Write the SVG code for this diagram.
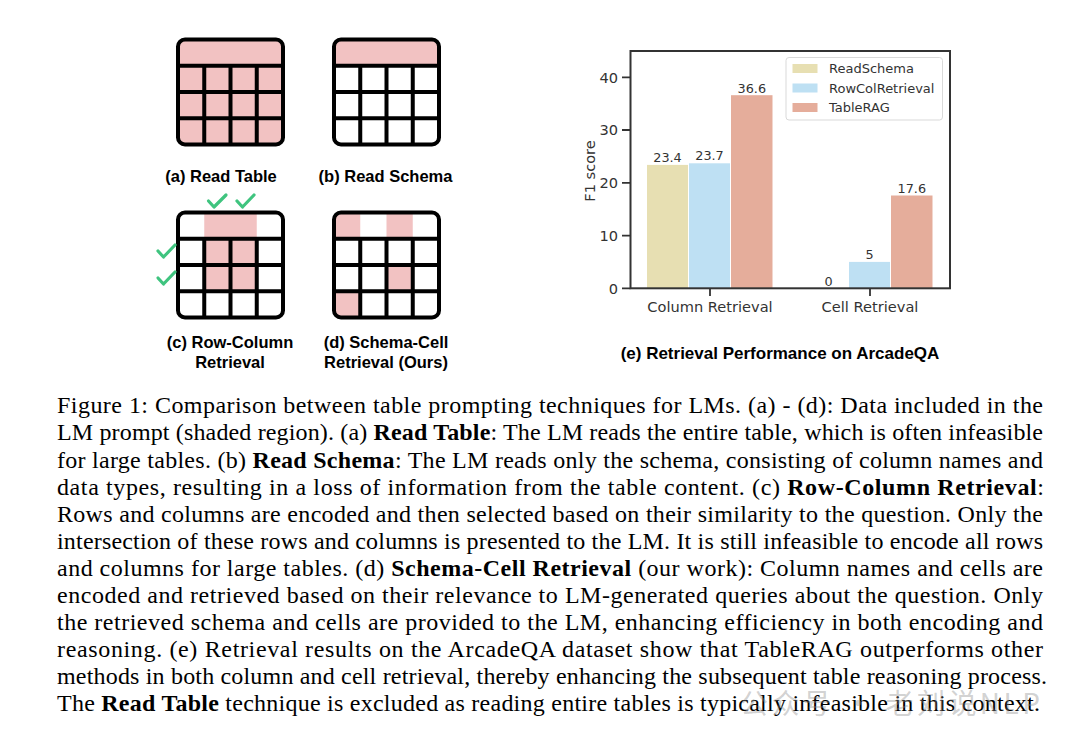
<svg xmlns="http://www.w3.org/2000/svg" width="1080" height="742" viewBox="0 0 1080 742">
<style>
.frame{fill:none;stroke:#000;stroke-width:4}
.grid{stroke:#000;stroke-width:4;fill:none}
.sh{fill:#f2c2c2}
.chk{fill:none;stroke:#3fc47f;stroke-width:3.2;stroke-linecap:round;stroke-linejoin:round}
.lbl{font-family:"Liberation Sans",Arial,sans-serif;font-weight:bold;font-size:16.5px;fill:#000;text-anchor:middle}
.ax{font-family:"DejaVu Sans",sans-serif;font-size:14.6px;fill:#333}
.val{font-family:"DejaVu Sans",sans-serif;font-size:12.8px;fill:#333;text-anchor:middle}
.leg{font-family:"DejaVu Sans",sans-serif;font-size:13px;fill:#333}
.spine{stroke:#333;stroke-width:2;fill:none}
.tick{stroke:#333;stroke-width:1.8}
.cap{font-family:"Liberation Serif","Times New Roman",serif;font-size:24px;fill:#000}
.b{font-weight:bold}
.y{fill:#e7dfb2}.bl{fill:#bee0f3}.s{fill:#e5ad9b}
</style>
<defs>
<clipPath id="ca"><rect x="178" y="39.5" width="105" height="105" rx="7"/></clipPath>
<clipPath id="cb"><rect x="334" y="39.5" width="105" height="105" rx="7"/></clipPath>
<clipPath id="cc"><rect x="178" y="212.5" width="105" height="105" rx="7"/></clipPath>
<clipPath id="cd"><rect x="334" y="212.5" width="105" height="105" rx="7"/></clipPath>
</defs>

<g id="table-a">
<rect class="sh" x="178" y="39.5" width="105" height="105" clip-path="url(#ca)"/>
<path class="grid" d="M178 65.75H283M178 92H283M178 118.25H283M204.25 65.75V144.5M230.5 65.75V144.5M256.75 65.75V144.5"/>
<rect class="frame" x="178" y="39.5" width="105" height="105" rx="7"/>
<text class="lbl" x="221" y="181.5">(a) Read Table</text>
</g>

<g id="table-b">
<rect class="sh" x="334" y="39.5" width="105" height="26.25" clip-path="url(#cb)"/>
<path class="grid" d="M334 65.75H439M334 92H439M334 118.25H439M360.25 65.75V144.5M386.5 65.75V144.5M412.75 65.75V144.5"/>
<rect class="frame" x="334" y="39.5" width="105" height="105" rx="7"/>
<text class="lbl" x="385.5" y="181.5">(b) Read Schema</text>
</g>

<g id="table-c">
<g clip-path="url(#cc)">
<rect class="sh" x="204.25" y="212.5" width="52.5" height="26.25"/>
<rect class="sh" x="204.25" y="238.75" width="52.5" height="52.5"/>
</g>
<path class="grid" d="M178 238.75H283M178 265H283M178 291.25H283M204.25 238.75V317.5M230.5 238.75V317.5M256.75 238.75V317.5"/>
<rect class="frame" x="178" y="212.5" width="105" height="105" rx="7"/>
<polyline class="chk" points="208.5,201 214,207 226,195"/>
<polyline class="chk" points="237,201 242.5,207 254,195"/>
<polyline class="chk" points="158,251 163.5,257 175,245"/>
<polyline class="chk" points="158,278 163.5,284 175,272"/>
<text class="lbl" x="230" y="348.3">(c) Row-Column</text>
<text class="lbl" x="230" y="368.3">Retrieval</text>
</g>

<g id="table-d">
<g clip-path="url(#cd)">
<rect class="sh" x="334" y="212.5" width="26.25" height="26.25"/>
<rect class="sh" x="386.5" y="212.5" width="26.25" height="26.25"/>
<rect class="sh" x="386.5" y="265" width="26.25" height="26.25"/>
<rect class="sh" x="334" y="291.25" width="26.25" height="26.25"/>
</g>
<path class="grid" d="M334 238.75H439M334 265H439M334 291.25H439M360.25 238.75V317.5M386.5 238.75V317.5M412.75 238.75V317.5"/>
<rect class="frame" x="334" y="212.5" width="105" height="105" rx="7"/>
<text class="lbl" x="386" y="348.3">(d) Schema-Cell</text>
<text class="lbl" x="386" y="368.3">Retrieval (Ours)</text>
</g>

<g id="chart">
<g id="bars">
<rect class="y" x="647" y="164.9" width="41" height="123.4"/>
<rect class="bl" x="689" y="163.3" width="41" height="125"/>
<rect class="s" x="731" y="95.2" width="41.5" height="193.1"/>
<rect class="bl" x="849" y="261.9" width="41" height="26.4"/>
<rect class="s" x="891" y="195.5" width="41.5" height="92.8"/>
</g>
<g class="val">
<text x="667.5" y="161.8">23.4</text>
<text x="709.5" y="160.2">23.7</text>
<text x="751.8" y="92.5">36.6</text>
<text x="828.5" y="285.5">0</text>
<text x="869.5" y="258.8">5</text>
<text x="911.8" y="192.5">17.6</text>
</g>
<g class="ax" text-anchor="middle">
<text x="710" y="311.5">Column Retrieval</text>
<text x="870" y="311.5">Cell Retrieval</text>
<text transform="translate(595,171) rotate(-90)">F1 score</text>
</g>
<g class="ax" text-anchor="end">
<text x="618" y="293.6">0</text>
<text x="618" y="240.9">10</text>
<text x="618" y="188.1">20</text>
<text x="618" y="135.3">30</text>
<text x="618" y="82.6">40</text>
</g>
<path class="tick" d="M622 288.3H630.5M622 235.6H630.5M622 182.8H630.5M622 130H630.5M622 77.3H630.5M710 288.3V296M870 288.3V296"/>
<rect class="spine" x="630.5" y="51" width="319.5" height="237.3"/>
<g id="legend">
<rect x="786" y="57.5" width="156.5" height="62.5" rx="3" fill="#fff" fill-opacity="0.8" stroke="#d9d9d9" stroke-width="1"/>
<rect class="y" x="792.5" y="64" width="25" height="9"/>
<rect class="bl" x="792.5" y="83.5" width="25" height="9"/>
<rect class="s" x="792.5" y="103" width="25" height="9"/>
<text class="leg" x="829" y="73">ReadSchema</text>
<text class="leg" x="829" y="92.5">RowColRetrieval</text>
<text class="leg" x="829" y="112">TableRAG</text>
</g>
<text class="lbl" x="780" y="359" style="font-size:17px">(e) Retrieval Performance on ArcadeQA</text>
</g>

<g id="caption" class="cap">
<text x="57" y="413.3" textLength="986" lengthAdjust="spacing">Figure 1: Comparison between table prompting techniques for LMs. (a) - (d): Data included in the</text>
<text x="57" y="440.4" textLength="986" lengthAdjust="spacing">LM prompt (shaded region). (a) <tspan class="b">Read Table</tspan>: The LM reads the entire table, which is often infeasible</text>
<text x="57" y="467.5" textLength="986" lengthAdjust="spacing">for large tables. (b) <tspan class="b">Read Schema</tspan>: The LM reads only the schema, consisting of column names and</text>
<text x="57" y="494.6" textLength="987" lengthAdjust="spacing">data types, resulting in a loss of information from the table content. (c) <tspan class="b">Row-Column Retrieval</tspan>:</text>
<text x="57" y="521.7" textLength="986" lengthAdjust="spacing">Rows and columns are encoded and then selected based on their similarity to the question. Only the</text>
<text x="57" y="548.8" textLength="986" lengthAdjust="spacing">intersection of these rows and columns is presented to the LM. It is still infeasible to encode all rows</text>
<text x="57" y="575.9" textLength="986" lengthAdjust="spacing">and columns for large tables. (d) <tspan class="b">Schema-Cell Retrieval</tspan> (our work): Column names and cells are</text>
<text x="57" y="603" textLength="986" lengthAdjust="spacing">encoded and retrieved based on their relevance to LM-generated queries about the question. Only</text>
<text x="57" y="630.1" textLength="986" lengthAdjust="spacing">the retrieved schema and cells are provided to the LM, enhancing efficiency in both encoding and</text>
<text x="57" y="657.2" textLength="986" lengthAdjust="spacing">reasoning. (e) Retrieval results on the ArcadeQA dataset show that TableRAG outperforms other</text>
<text x="57" y="684.3" textLength="990" lengthAdjust="spacing">methods in both column and cell retrieval, thereby enhancing the subsequent table reasoning process.</text>
<text x="57" y="711.4" textLength="983" lengthAdjust="spacing">The <tspan class="b">Read Table</tspan> technique is excluded as reading entire tables is typically infeasible in this context.</text>
</g>

<text id="watermark" x="740" y="714" font-family="'Noto Sans CJK SC','Noto Sans',sans-serif" font-size="28" fill="#8a8a8a" fill-opacity="0.4" textLength="300" lengthAdjust="spacing">公众号 · 老刘说NLP</text>
</svg>
